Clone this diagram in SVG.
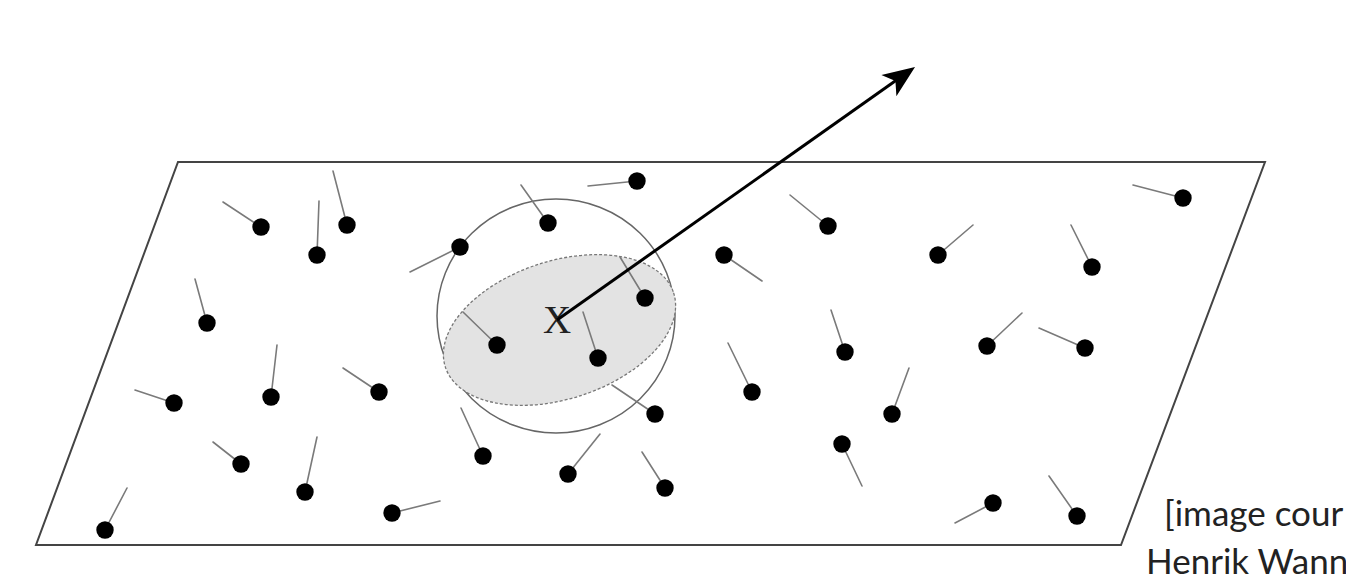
<svg xmlns="http://www.w3.org/2000/svg" width="1346" height="577" viewBox="0 0 1346 577">
<style>
.plane{fill:#fff;stroke:#444;stroke-width:2}
.sphere{fill:none;stroke:#666;stroke-width:1.5}
.disk{fill:#e3e3e3;stroke:#777;stroke-width:1.3;stroke-dasharray:3 2}
.tail{stroke:#7a7a7a;stroke-width:1.6;stroke-linecap:round}
.dot{fill:#000}
.lbl{font-family:"Liberation Serif","Times New Roman",serif;font-size:39px;fill:#222}
.credit{font-family:Lato,"Open Sans","Liberation Sans",sans-serif;font-size:35px;fill:#222}
.arrow{stroke:#000;stroke-width:3;fill:none}
</style>
<defs>
<marker id="head" markerUnits="userSpaceOnUse" viewBox="-14 -15 36 30" markerWidth="36" markerHeight="30" refX="0" refY="0" orient="auto">
<path d="M20,0 L-12,-13 L-4,0 L-12,13 Z" fill="#000"/>
</marker>
</defs>
<rect width="1346" height="577" fill="#fff"/>
<g id="plane"><polygon class="plane" points="178,162 1265,162 1121,545 36,545"/></g>
<g id="sphere"><ellipse class="sphere" cx="556" cy="316" rx="119" ry="117"/></g>
<g id="disk"><ellipse class="disk" cx="559.5" cy="330" rx="120" ry="69" transform="rotate(-18 559.5 330)"/></g>
<g id="points">
<g id="p1"><line class="tail" x1="261" y1="227" x2="223" y2="202"/><circle class="dot" cx="261" cy="227" r="8.7"/></g>
<g id="p2"><line class="tail" x1="317" y1="255" x2="319" y2="201"/><circle class="dot" cx="317" cy="255" r="8.7"/></g>
<g id="p3"><line class="tail" x1="347" y1="225" x2="333" y2="171"/><circle class="dot" cx="347" cy="225" r="8.7"/></g>
<g id="p4"><line class="tail" x1="207" y1="323" x2="195" y2="279"/><circle class="dot" cx="207" cy="323" r="8.7"/></g>
<g id="p5"><line class="tail" x1="174" y1="403" x2="135" y2="390"/><circle class="dot" cx="174" cy="403" r="8.7"/></g>
<g id="p6"><line class="tail" x1="271" y1="397" x2="277" y2="345"/><circle class="dot" cx="271" cy="397" r="8.7"/></g>
<g id="p7"><line class="tail" x1="379" y1="392" x2="343" y2="368"/><circle class="dot" cx="379" cy="392" r="8.7"/></g>
<g id="p8"><line class="tail" x1="241" y1="464" x2="213" y2="442"/><circle class="dot" cx="241" cy="464" r="8.7"/></g>
<g id="p9"><line class="tail" x1="305" y1="492" x2="317" y2="437"/><circle class="dot" cx="305" cy="492" r="8.7"/></g>
<g id="p10"><line class="tail" x1="105" y1="530" x2="127" y2="488"/><circle class="dot" cx="105" cy="530" r="8.7"/></g>
<g id="p11"><line class="tail" x1="392" y1="513" x2="440" y2="501"/><circle class="dot" cx="392" cy="513" r="8.7"/></g>
<g id="p12"><line class="tail" x1="637" y1="181" x2="588" y2="186"/><circle class="dot" cx="637" cy="181" r="8.7"/></g>
<g id="p13"><line class="tail" x1="548" y1="223" x2="521" y2="185"/><circle class="dot" cx="548" cy="223" r="8.7"/></g>
<g id="p14"><line class="tail" x1="460" y1="247" x2="410" y2="272"/><circle class="dot" cx="460" cy="247" r="8.7"/></g>
<g id="p15"><line class="tail" x1="645" y1="298" x2="620" y2="257"/><circle class="dot" cx="645" cy="298" r="8.7"/></g>
<g id="p16"><line class="tail" x1="497" y1="345" x2="463" y2="312"/><circle class="dot" cx="497" cy="345" r="8.7"/></g>
<g id="p17"><line class="tail" x1="598" y1="358" x2="583" y2="312"/><circle class="dot" cx="598" cy="358" r="8.7"/></g>
<g id="p18"><line class="tail" x1="655" y1="414" x2="612" y2="385"/><circle class="dot" cx="655" cy="414" r="8.7"/></g>
<g id="p19"><line class="tail" x1="483" y1="456" x2="461" y2="408"/><circle class="dot" cx="483" cy="456" r="8.7"/></g>
<g id="p20"><line class="tail" x1="568" y1="474" x2="600" y2="434"/><circle class="dot" cx="568" cy="474" r="8.7"/></g>
<g id="p21"><line class="tail" x1="665" y1="488" x2="642" y2="452"/><circle class="dot" cx="665" cy="488" r="8.7"/></g>
<g id="p22"><line class="tail" x1="828" y1="226" x2="790" y2="195"/><circle class="dot" cx="828" cy="226" r="8.7"/></g>
<g id="p23"><line class="tail" x1="724" y1="255" x2="762" y2="281"/><circle class="dot" cx="724" cy="255" r="8.7"/></g>
<g id="p24"><line class="tail" x1="938" y1="255" x2="973" y2="225"/><circle class="dot" cx="938" cy="255" r="8.7"/></g>
<g id="p25"><line class="tail" x1="845" y1="352" x2="831" y2="310"/><circle class="dot" cx="845" cy="352" r="8.7"/></g>
<g id="p26"><line class="tail" x1="752" y1="392" x2="728" y2="343"/><circle class="dot" cx="752" cy="392" r="8.7"/></g>
<g id="p27"><line class="tail" x1="987" y1="346" x2="1022" y2="313"/><circle class="dot" cx="987" cy="346" r="8.7"/></g>
<g id="p28"><line class="tail" x1="892" y1="414" x2="909" y2="368"/><circle class="dot" cx="892" cy="414" r="8.7"/></g>
<g id="p29"><line class="tail" x1="842" y1="444" x2="862" y2="486"/><circle class="dot" cx="842" cy="444" r="8.7"/></g>
<g id="p30"><line class="tail" x1="993" y1="503" x2="955" y2="523"/><circle class="dot" cx="993" cy="503" r="8.7"/></g>
<g id="p31"><line class="tail" x1="1183" y1="198" x2="1133" y2="185"/><circle class="dot" cx="1183" cy="198" r="8.7"/></g>
<g id="p32"><line class="tail" x1="1092" y1="267" x2="1071" y2="225"/><circle class="dot" cx="1092" cy="267" r="8.7"/></g>
<g id="p33"><line class="tail" x1="1085" y1="348" x2="1039" y2="328"/><circle class="dot" cx="1085" cy="348" r="8.7"/></g>
<g id="p34"><line class="tail" x1="1077" y1="516" x2="1049" y2="476"/><circle class="dot" cx="1077" cy="516" r="8.7"/></g>
</g>
<g id="x-label"><text class="lbl" x="557" y="333" text-anchor="middle">X</text></g>
<g id="connectors"><line class="arrow" x1="557" y1="320" x2="898.7" y2="78.6" marker-end="url(#head)"/></g>
<g id="credit">
<text class="credit" x="1164" y="526">[image cour</text>
<text class="credit" x="1146" y="574">Henrik Wann</text>
</g>
</svg>
